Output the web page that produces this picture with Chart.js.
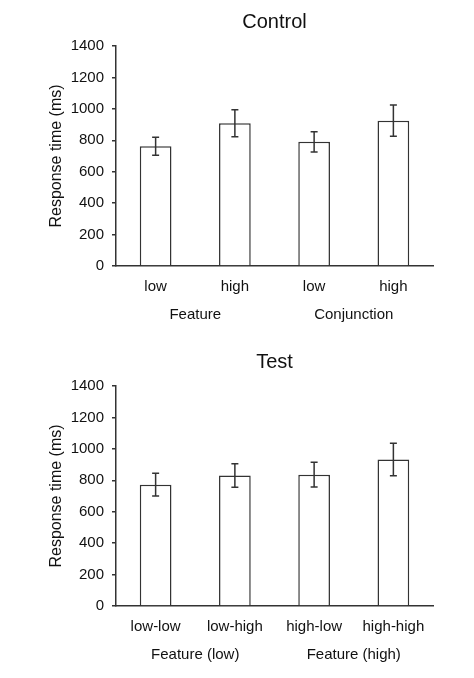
<!DOCTYPE html>
<html>
<head>
<meta charset="utf-8">
<script src="https://cdn.jsdelivr.net/npm/chart.js@4.4.1/dist/chart.umd.min.js"></script>
<style>
  body { margin: 0; background: #fff; }
  .panel { position: relative; width: 474px; }
</style>
</head>
<body>
<div class="panel" style="height:340px"><canvas id="controlChart"></canvas></div>
<div class="panel" style="height:338px"><canvas id="testChart"></canvas></div>
<script>
// Control panel
const controlLabels = ['low', 'high', 'low', 'high'];
const controlGroups = ['Feature', 'Conjunction'];
const controlMeans = [762, 909, 790, 925];
const controlErrors = [57, 86, 65, 99];

// Test panel
const testLabels = ['low-low', 'low-high', 'high-low', 'high-high'];
const testGroups = ['Feature (low)', 'Feature (high)'];
const testMeans = [772, 830, 836, 932];
const testErrors = [72, 75, 78, 103];

const yMax = 1400;
const yStep = 200;

const FONT = "'Liberation Sans', Arial, sans-serif";
const INK = '#333';
const TEXT = '#111';

// error bars, drawn from the dataset's own errors through the y scale
const errorBars = {
        id: 'errorBars',
        afterDatasetsDraw(chart) {
                const ctx = chart.ctx;
                const y = chart.scales.y;
                const errs = chart.options.plugins.errorBars.errors;
                const vals = chart.data.datasets[0].data;
                chart.getDatasetMeta(0).data.forEach((bar, i) => {
                        const top = y.getPixelForValue(vals[i] + errs[i]);
                        const bot = y.getPixelForValue(vals[i] - errs[i]);
                        ctx.save();
                        ctx.strokeStyle = INK;
                        ctx.lineWidth = 1.5;
                        ctx.beginPath();
                        ctx.moveTo(bar.x, top); ctx.lineTo(bar.x, bot);
                        ctx.moveTo(bar.x - 3.5, top); ctx.lineTo(bar.x + 3.5, top);
                        ctx.moveTo(bar.x - 3.5, bot); ctx.lineTo(bar.x + 3.5, bot);
                        ctx.stroke();
                        ctx.restore();
                });
        }
};

// panel title centred over the plot area
const panelTitle = {
        id: 'panelTitle',
        afterDraw(chart) {
                const ctx = chart.ctx;
                const a = chart.chartArea;
                ctx.save();
                ctx.fillStyle = TEXT;
                ctx.font = '20px ' + FONT;
                ctx.textAlign = 'center';
                ctx.textBaseline = 'middle';
                ctx.fillText(chart.options.plugins.panelTitle.text, (a.left + a.right) / 2, 22);
                ctx.restore();
        }
};

function makeChart(id, title, labels, groups, means, errors, padBottom) {
        const ctx = document.getElementById(id).getContext('2d');
        return new Chart(ctx, {
                type: 'bar',
                data: {
                        labels: labels,
                        datasets: [{
                                data: means,
                                backgroundColor: '#fff',
                                borderColor: INK,
                                borderWidth: 1.5,
                                categoryPercentage: 1,
                                barPercentage: 0.4,
                        }],
                },
                options: {
                        responsive: true,
                        maintainAspectRatio: false,
                        animation: false,
                        layout: { padding: { left: 47, right: 41, top: 46, bottom: padBottom } },
                        plugins: {
                                legend: { display: false },
                                tooltip: { enabled: false },
                                panelTitle: { text: title },
                                errorBars: { errors: errors },
                        },
                        scales: {
                                y: {
                                        min: 0,
                                        max: yMax,
                                        ticks: { stepSize: yStep, color: TEXT, font: { family: FONT, size: 15 }, padding: 8,
                                                callback: (v) => String(v) },
                                        grid: { drawOnChartArea: false, color: INK, tickLength: 4, lineWidth: 1.5 },
                                        border: { color: INK, width: 1.5 },
                                        title: { display: true, text: 'Response time (ms)', color: TEXT, font: { family: FONT, size: 16 }, padding: 0 },
                                        afterFit: (s) => { s.width = 69; },
                                },
                                x: {
                                        ticks: { color: TEXT, font: { family: FONT, size: 15 }, padding: 12 },
                                        grid: { display: false, tickLength: 0 },
                                        border: { color: INK, width: 1.5 },
                                        afterFit: (s) => { s.height = 28; },
                                },
                                x2: {
                                        type: 'category',
                                        labels: groups,
                                        position: 'bottom',
                                        offset: true,
                                        ticks: { color: TEXT, font: { family: FONT, size: 15 }, padding: 12 },
                                        grid: { display: false, tickLength: 0 },
                                        border: { display: false },
                                        afterFit: (s) => { s.height = 28; },
                                },
                        },
                },
                plugins: [errorBars, panelTitle],
        });
}

makeChart('controlChart', 'Control', controlLabels, controlGroups, controlMeans, controlErrors, 18);
makeChart('testChart', 'Test', testLabels, testGroups, testMeans, testErrors, 16);
</script>
</body>
</html>
